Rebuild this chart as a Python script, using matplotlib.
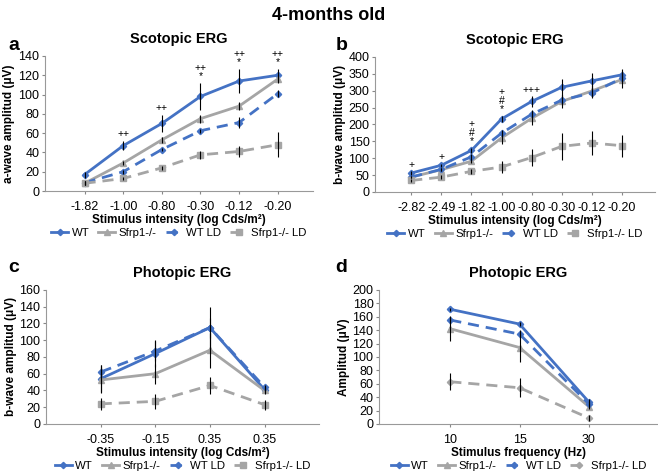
import matplotlib.pyplot as plt
from matplotlib.lines import Line2D

plt.rcParams['font.family'] = ['Liberation Sans', 'DejaVu Sans']

BLUE = '#4472C4'
GRAY = '#A5A5A5'

# panel a: scotopic a-wave
a_cats = ['-1.82', '-1.00', '-0.80', '-0.30', '-0.12', '-0.20']
a_wt = [17, 47, 70, 98, 114, 120]
a_wt_err = [3, 5, 9, 14, 12, 6]
a_ko = [8, 29, 53, 75, 88, 116]
a_ko_err = [2, 2, 3, 4, 4, 4]
a_wtld = [8.5, 20, 43, 62.5, 71, 101]
a_wtld_err = [2, 2, 2, 2, 6, 4]
a_kold = [8, 13, 24, 37.5, 41, 48]
a_kold_err = [2, 2, 2, 4, 6, 13]
a_marks = [None, '++', '++', '++\n*', '++\n*', '++\n*']

# panel b: scotopic b-wave
b_cats = ['-2.82', '-2.49', '-1.82', '-1.00', '-0.80', '-0.30', '-0.12', '-0.20']
b_wt = [56, 79, 123, 216, 268, 310, 329, 347]
b_wt_err = [5, 5, 8, 10, 15, 25, 24, 17]
b_ko = [44, 66, 91, 160, 218, 268, 299, 333]
b_ko_err = [4, 5, 6, 18, 20, 20, 18, 25]
b_wtld = [44, 67, 104, 174, 230, 272, 293, 337]
b_wtld_err = [4, 4, 8, 10, 12, 14, 15, 15]
b_kold = [34, 44, 61, 74, 102, 135, 145, 137]
b_kold_err = [5, 5, 8, 18, 26, 40, 37, 33]
b_marks = ['+', '+', '+\n#\n*', '+\n#\n*', '+++', None, None, None]

# panel c: photopic b-wave
c_cats = ['-0.35', '-0.15', '0.35', '0.35']
c_wt = [54, 84, 115, 41]
c_wt_err = [16, 16, 25, 4]
c_ko = [52.5, 60, 88, 40]
c_ko_err = [16, 12, 21, 4]
c_wtld = [62, 87, 115, 44]
c_wtld_err = [8, 12, 12, 3]
c_kold = [24, 27, 46, 23]
c_kold_err = [7, 9, 10, 6]

# panel d: photopic flicker
d_cats = ['10', '15', '30']
d_wt = [171, 149, 33]
d_wt_err = [2, 3, 4]
d_ko = [142, 114, 26]
d_ko_err = [18, 22, 4]
d_wtld = [155, 134, 30]
d_wtld_err = [6, 6, 4]
d_kold = [63, 54, 9]
d_kold_err = [13, 14, 4]

labels = ['WT', 'Sfrp1-/-', 'WT LD', 'Sfrp1-/- LD']


def draw(ax, cats, series, ymax, ystep, ylabel, xlabel, title, xlim, kold_marker='s'):
    x = list(range(len(cats)))
    styles = [
        (BLUE, '-', 'D', 3.2),
        (GRAY, '-', '^', 4.2),
        (BLUE, '--', 'D', 3.2),
        (GRAY, '--', kold_marker, 4.5 if kold_marker == 's' else 3.2),
    ]
    handles = []
    for (vals, err), lab, (col, ls, mk, ms) in zip(series, labels, styles):
        dash = (4, 2.5) if ls == '--' else (None, None)
        ax.errorbar(x, vals, yerr=err, fmt='none', ecolor='black', elinewidth=0.8,
                    capsize=0, zorder=3)
        ax.plot(x, vals, color=col, ls=ls, lw=2, marker=mk, ms=ms, dashes=dash, zorder=2)
        handles.append(Line2D([], [], color=col, ls=ls, lw=2, marker=mk, ms=ms, dashes=dash,
                              label=lab))
    ax.set_xlim(*xlim)
    ax.set_ylim(0, ymax)
    ax.set_yticks(range(0, ymax + 1, ystep))
    ax.set_xticks(x)
    ax.set_xticklabels(cats)
    ax.tick_params(labelsize=9, length=2, color='#888888', pad=2)
    ax.tick_params(axis='x', pad=5)
    for s in ['top', 'right']:
        ax.spines[s].set_visible(False)
    for s in ['left', 'bottom']:
        ax.spines[s].set_color('#999999')
    ax.set_ylabel(ylabel, fontsize=8.5, fontweight='bold', labelpad=2)
    ax.set_xlabel(xlabel, fontsize=8.5, fontweight='bold', labelpad=1)
    ax.set_title(title, fontsize=10.5, fontweight='bold', pad=9)
    ax.legend(handles=handles, loc='upper center', bbox_to_anchor=(0.5, -0.235), ncol=4,
              frameon=False, fontsize=8.2, handlelength=1.5, columnspacing=0.8,
              handletextpad=0.3, borderpad=0)


fig = plt.figure(figsize=(6.58, 4.74), dpi=100)
fig.text(0.5, 0.967, '4-months old', ha='center', va='center', fontsize=13, fontweight='bold')

xl = 'Stimulus intensity (log Cds/m²)'

ax_a = fig.add_axes([0.068, 0.597, 0.407, 0.285])
draw(ax_a, a_cats, [(a_wt, a_wt_err), (a_ko, a_ko_err), (a_wtld, a_wtld_err), (a_kold, a_kold_err)],
     140, 20, 'a-wave amplitud (μV)', xl, 'Scotopic ERG', (-1.03, 5.9))
for i, m in enumerate(a_marks):
    if m:
        ax_a.text(i, a_wt[i] + a_wt_err[i] + 2, m, ha='center', va='bottom', fontsize=7.5,
                  linespacing=0.8)

ax_b = fig.add_axes([0.570, 0.595, 0.4255, 0.285])
draw(ax_b, b_cats, [(b_wt, b_wt_err), (b_ko, b_ko_err), (b_wtld, b_wtld_err), (b_kold, b_kold_err)],
     400, 50, 'b-wave amplitud (μV)', xl, 'Scotopic ERG', (-1.2, 8.1))
for i, m in enumerate(b_marks):
    if m:
        ax_b.text(i, b_wt[i] + b_wt_err[i] + 5, m, ha='center', va='bottom', fontsize=7.5,
                  linespacing=0.8)

ax_c = fig.add_axes([0.070, 0.1055, 0.415, 0.283])
draw(ax_c, c_cats, [(c_wt, c_wt_err), (c_ko, c_ko_err), (c_wtld, c_wtld_err), (c_kold, c_kold_err)],
     160, 20, 'b-wave amplitud (μV)', xl, 'Photopic ERG', (-1.0, 4.0))

ax_d = fig.add_axes([0.576, 0.1055, 0.424, 0.283])
draw(ax_d, d_cats, [(d_wt, d_wt_err), (d_ko, d_ko_err), (d_wtld, d_wtld_err), (d_kold, d_kold_err)],
     200, 20, 'Amplitud (μV)', 'Stimulus frequency (Hz)', 'Photopic ERG', (-1.03, 3.0),
     kold_marker='D')

for lab, x, y in [('a', 0.012, 0.905), ('b', 0.51, 0.905), ('c', 0.012, 0.435), ('d', 0.51, 0.435)]:
    fig.text(x, y, lab, fontsize=14, fontweight='bold', va='center')

fig.savefig('out.png', dpi=100)
